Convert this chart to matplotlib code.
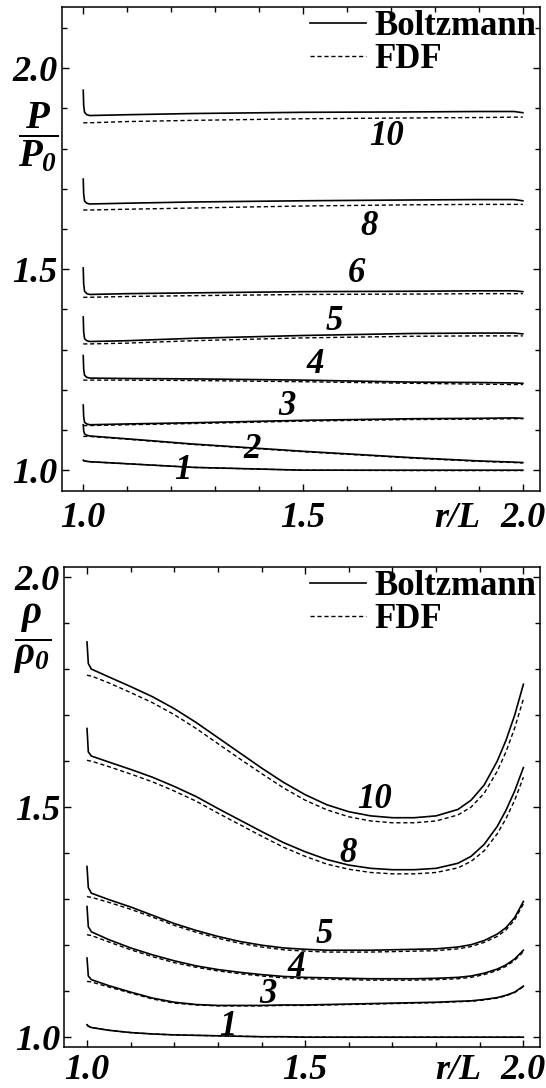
import matplotlib
matplotlib.use("Agg")
import matplotlib.pyplot as plt
import matplotlib.transforms as mtransforms
from matplotlib.ticker import MultipleLocator

plt.rcParams["font.family"] = "Liberation Serif"
plt.rcParams["mathtext.fontset"] = "custom"
plt.rcParams["mathtext.rm"] = "Liberation Serif:bold:italic"
plt.rcParams["mathtext.it"] = "Liberation Serif:bold:italic"
plt.rcParams["mathtext.bf"] = "Liberation Serif:bold:italic"

# ---- pressure panel data (P/P0 vs r/L) ----
r_top = [1.0, 1.001, 1.003, 1.008, 1.015, 1.1, 1.25, 1.5, 1.75, 1.9, 1.98, 2.0]
p_labels = ["10", "8", "6", "5", "4", "3", "2", "1"]
p_boltz = [
    [1.945, 1.907, 1.890, 1.884, 1.882, 1.884, 1.887, 1.890, 1.891, 1.892, 1.892, 1.889],
    [1.724, 1.687, 1.669, 1.664, 1.662, 1.664, 1.667, 1.670, 1.672, 1.673, 1.673, 1.670],
    [1.503, 1.463, 1.445, 1.439, 1.437, 1.439, 1.441, 1.444, 1.445, 1.446, 1.446, 1.444],
    [1.381, 1.344, 1.327, 1.322, 1.320, 1.322, 1.328, 1.335, 1.340, 1.341, 1.341, 1.339],
    [1.285, 1.251, 1.236, 1.231, 1.229, 1.228, 1.227, 1.224, 1.219, 1.218, 1.217, 1.216],
    [1.162, 1.133, 1.119, 1.115, 1.113, 1.115, 1.118, 1.124, 1.128, 1.129, 1.130, 1.129],
    [1.113, 1.098, 1.090, 1.087, 1.085, 1.078, 1.065, 1.047, 1.031, 1.023, 1.020, 1.019],
    [1.025, 1.024, 1.023, 1.022, 1.021, 1.016, 1.007, 1.000, 1.000, 1.000, 1.000, 1.000],
]
p_fdf = [
    [1.864, 1.864, 1.864, 1.864, 1.864, 1.867, 1.870, 1.874, 1.876, 1.877, 1.878, 1.878],
    [1.647, 1.647, 1.647, 1.647, 1.647, 1.649, 1.652, 1.657, 1.660, 1.661, 1.661, 1.661],
    [1.430, 1.430, 1.430, 1.430, 1.430, 1.432, 1.434, 1.437, 1.438, 1.439, 1.439, 1.439],
    [1.314, 1.314, 1.314, 1.314, 1.314, 1.316, 1.322, 1.329, 1.333, 1.334, 1.334, 1.334],
    [1.224, 1.224, 1.224, 1.224, 1.224, 1.224, 1.223, 1.220, 1.216, 1.214, 1.213, 1.213],
    [1.111, 1.111, 1.111, 1.111, 1.111, 1.113, 1.116, 1.122, 1.126, 1.127, 1.128, 1.128],
    [1.084, 1.084, 1.084, 1.084, 1.084, 1.077, 1.064, 1.046, 1.030, 1.022, 1.019, 1.018],
    [1.024, 1.024, 1.023, 1.022, 1.021, 1.016, 1.007, 1.000, 0.999, 0.999, 0.999, 0.999],
]
p_label_x = [1.689, 1.651, 1.622, 1.572, 1.527, 1.464, 1.384, 1.226]
p_label_y = [1.829, 1.606, 1.490, 1.370, 1.262, 1.159, 1.051, 0.998]

# ---- density panel data (rho/rho0 vs r/L) ----
r_bot = [1.0, 1.003, 1.01, 1.05, 1.1, 1.15, 1.2, 1.25, 1.3, 1.35, 1.4, 1.45, 1.5,
         1.55, 1.6, 1.65, 1.7, 1.75, 1.8, 1.85, 1.88, 1.91, 1.94, 1.96, 1.98, 2.0]
d_labels = ["10", "8", "5", "4", "3", "1"]
d_boltz = [
    [1.859, 1.812, 1.800, 1.783, 1.762, 1.740, 1.714, 1.684, 1.651, 1.618, 1.585, 1.554, 1.527,
     1.505, 1.490, 1.481, 1.477, 1.477, 1.481, 1.495, 1.515, 1.548, 1.600, 1.645, 1.700, 1.767],
    [1.671, 1.620, 1.611, 1.598, 1.582, 1.565, 1.545, 1.523, 1.497, 1.472, 1.447, 1.423, 1.403,
     1.386, 1.374, 1.367, 1.364, 1.364, 1.367, 1.378, 1.393, 1.419, 1.458, 1.493, 1.535, 1.586],
    [1.371, 1.325, 1.313, 1.299, 1.283, 1.265, 1.247, 1.232, 1.219, 1.208, 1.200, 1.194, 1.191,
     1.189, 1.189, 1.189, 1.190, 1.191, 1.192, 1.196, 1.201, 1.210, 1.224, 1.238, 1.260, 1.295],
    [1.284, 1.240, 1.229, 1.212, 1.194, 1.179, 1.166, 1.155, 1.147, 1.141, 1.136, 1.132, 1.130,
     1.129, 1.128, 1.127, 1.127, 1.127, 1.128, 1.130, 1.133, 1.139, 1.148, 1.157, 1.170, 1.189],
    [1.172, 1.133, 1.125, 1.112, 1.098, 1.085, 1.076, 1.071, 1.069, 1.069, 1.069, 1.070, 1.070,
     1.071, 1.072, 1.073, 1.074, 1.075, 1.076, 1.078, 1.079, 1.082, 1.086, 1.091, 1.098, 1.111],
    [1.027, 1.024, 1.021, 1.015, 1.010, 1.007, 1.005, 1.004, 1.003, 1.002, 1.001, 1.001, 1.000,
     1.000, 1.000, 1.000, 1.000, 1.000, 1.000, 1.000, 1.000, 1.000, 1.000, 1.000, 1.000, 1.000],
]
d_fdf = [
    [1.787, 1.786, 1.785, 1.770, 1.749, 1.727, 1.701, 1.671, 1.638, 1.605, 1.573, 1.542, 1.515,
     1.494, 1.479, 1.470, 1.466, 1.466, 1.470, 1.483, 1.500, 1.530, 1.578, 1.620, 1.672, 1.735],
    [1.602, 1.601, 1.600, 1.588, 1.572, 1.555, 1.535, 1.513, 1.487, 1.462, 1.437, 1.413, 1.393,
     1.376, 1.365, 1.358, 1.355, 1.355, 1.358, 1.368, 1.382, 1.405, 1.442, 1.475, 1.515, 1.565],
    [1.306, 1.305, 1.304, 1.293, 1.278, 1.261, 1.243, 1.228, 1.215, 1.204, 1.196, 1.190, 1.187,
     1.185, 1.185, 1.185, 1.186, 1.187, 1.188, 1.192, 1.197, 1.206, 1.219, 1.233, 1.255, 1.290],
    [1.223, 1.222, 1.221, 1.207, 1.190, 1.175, 1.162, 1.152, 1.144, 1.138, 1.133, 1.129, 1.127,
     1.126, 1.125, 1.124, 1.124, 1.124, 1.125, 1.127, 1.130, 1.136, 1.145, 1.154, 1.167, 1.186],
    [1.121, 1.121, 1.120, 1.109, 1.096, 1.083, 1.074, 1.070, 1.068, 1.068, 1.068, 1.069, 1.069,
     1.070, 1.071, 1.072, 1.073, 1.074, 1.075, 1.077, 1.078, 1.081, 1.085, 1.090, 1.097, 1.110],
    [1.027, 1.024, 1.021, 1.015, 1.010, 1.007, 1.005, 1.004, 1.003, 1.002, 1.001, 1.001, 1.000,
     1.000, 1.000, 1.000, 1.000, 1.000, 1.000, 1.000, 1.000, 1.000, 1.000, 1.000, 1.000, 1.000],
]
d_label_x = [1.659, 1.599, 1.543, 1.479, 1.415, 1.323]
d_label_y = [1.516, 1.400, 1.223, 1.151, 1.093, 1.024]

num_font = dict(fontsize=26, fontweight="bold", fontstyle="italic")
curve_font = dict(fontsize=25, fontweight="bold", fontstyle="italic")
dash = (0, (3, 2))


def style_axes(ax, xlim, ylim, xpad):
    ax.set_xlim(*xlim)
    ax.set_ylim(*ylim)
    ax.xaxis.set_minor_locator(MultipleLocator(0.1))
    ax.yaxis.set_minor_locator(MultipleLocator(0.1))
    ax.tick_params(which="both", direction="in", top=True, right=True, width=1.0)
    ax.tick_params(which="major", length=5)
    ax.tick_params(which="minor", length=3.5)
    ax.tick_params(axis="x", pad=xpad)
    ax.tick_params(axis="y", pad=3)
    ax.set_xticks([1.0, 1.5, 2.0])
    ax.set_xticklabels(["1.0", "1.5", "2.0"], **num_font)
    ax.set_yticks([1.0, 1.5, 2.0])
    ax.set_yticklabels(["1.0", "1.5", "2.0"], **num_font)
    for s in ax.spines.values():
        s.set_linewidth(1.1)
    ax.legend(loc="upper right", frameon=False, borderaxespad=0.0,
              borderpad=0.1, handlelength=1.6, handletextpad=0.25,
              labelspacing=0.0, prop=dict(family="Liberation Serif",
                                          weight="bold", size=25))
    trans = mtransforms.blended_transform_factory(ax.transData, ax.transAxes)
    ax.annotate("r/L", xy=(1.852, 0), xycoords=trans, xytext=(0, -xpad),
                textcoords="offset points", ha="center", va="top", **num_font)


fig = plt.figure(figsize=(5.46, 10.88), dpi=100)

# ---- top panel ----
ax1 = fig.add_axes([0.1130, 0.549, 0.876, 0.4446])
for i, lab in enumerate(p_labels):
    ax1.plot(r_top, p_boltz[i], color="black", lw=1.2,
             label="Boltzmann" if i == 0 else None)
    ax1.plot(r_top, p_fdf[i], color="black", lw=1.0, linestyle=dash,
             label="FDF" if i == 0 else None)
    ax1.text(p_label_x[i], p_label_y[i], lab, ha="center", va="center", **curve_font)
style_axes(ax1, (0.951, 2.039), (0.949, 2.152), xpad=8)
ax1.text(-0.05, 0.732, r"$\dfrac{P}{P_0}$", transform=ax1.transAxes,
         ha="center", va="center", fontsize=28)

# ---- bottom panel ----
ax2 = fig.add_axes([0.1178, 0.0374, 0.8712, 0.4415])
for i, lab in enumerate(d_labels):
    ax2.plot(r_bot, d_boltz[i], color="black", lw=1.2,
             label="Boltzmann" if i == 0 else None)
    ax2.plot(r_bot, d_fdf[i], color="black", lw=1.0, linestyle=dash,
             label="FDF" if i == 0 else None)
    ax2.text(d_label_x[i], d_label_y[i], lab, ha="center", va="center", **curve_font)
style_axes(ax2, (0.948, 2.038), (0.978, 2.022), xpad=5)
ax2.text(-0.067, 0.851, r"$\dfrac{\rho}{\rho_0}$", transform=ax2.transAxes,
         ha="center", va="center", fontsize=28)

fig.savefig("out.png", dpi=100)
